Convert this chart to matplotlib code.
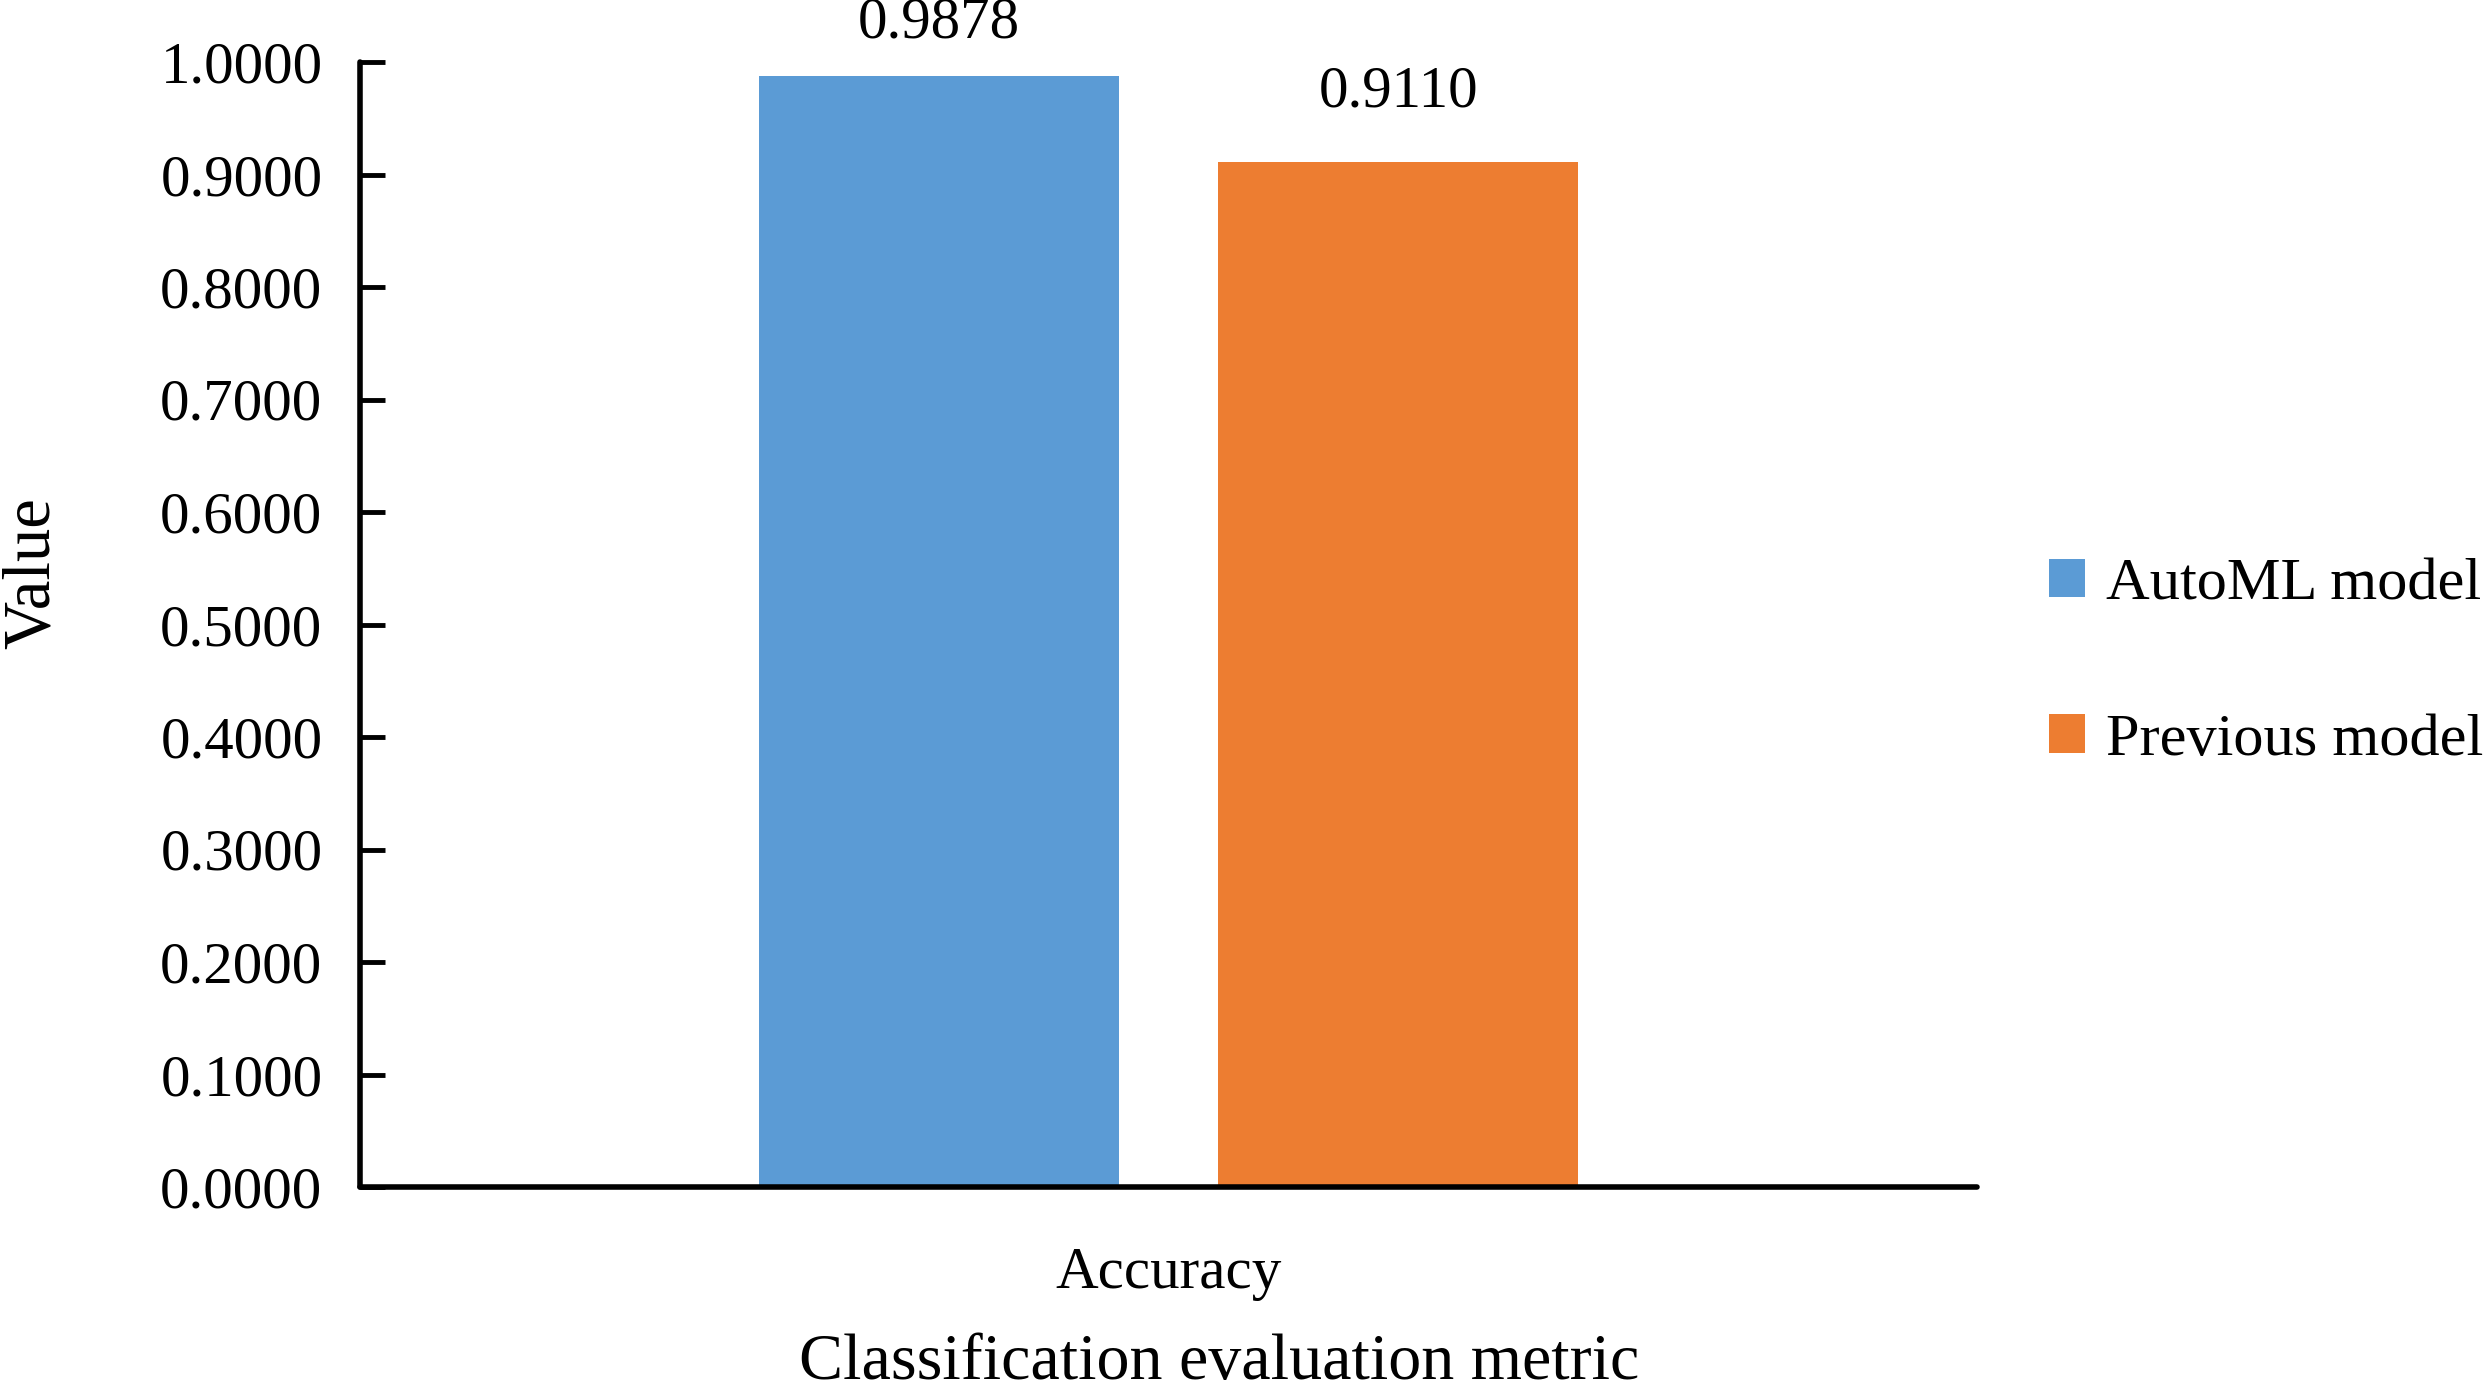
import matplotlib
matplotlib.use('Agg')
import matplotlib.pyplot as plt

# --- data ---
categories = ['Accuracy']
series_names = ['AutoML model', 'Previous model']
series_values = [[0.9878], [0.9110]]
series_colors = ['#5B9BD5', '#ED7D31']
y_ticks = [0.0, 0.1, 0.2, 0.3, 0.4, 0.5, 0.6, 0.7, 0.8, 0.9, 1.0]

plt.rcParams['font.family'] = ['Liberation Serif', 'DejaVu Serif']

W, H, DPI = 2488, 1382, 100
fig = plt.figure(figsize=(W / DPI, H / DPI), dpi=DPI)

# axes box in pixels: left 360, right 1977, y=0 at 1187, y=1 at 62
left, right, top, bottom = 360, 1977, 62, 1187
ax = fig.add_axes([left / W, 1 - bottom / H, (right - left) / W, (bottom - top) / H])

bar_w = 0.223
gap = 0.061
offsets = [-(bar_w + gap) / 2, (bar_w + gap) / 2]
pads = [18, 31]
for name, vals, color, off, pad in zip(series_names, series_values, series_colors, offsets, pads):
    xs = [i + 0.5 + off for i in range(len(categories))]
    bars = ax.bar(xs, vals, width=bar_w, color=color, label=name, zorder=2)
    ax.bar_label(bars, labels=[f'{v:.4f}' for v in vals], padding=pad, fontsize=42.5)

ax.set_xlim(0, len(categories))
ax.set_ylim(0, 1.0)
ax.set_yticks(y_ticks)
ax.set_yticklabels([f'{t:.4f}' for t in y_ticks])
ax.set_xticks([i + 0.5 for i in range(len(categories))])
ax.set_xticklabels(categories)

for s in ['top', 'right']:
    ax.spines[s].set_visible(False)
for s in ['left', 'bottom']:
    ax.spines[s].set_linewidth(4.0)
    ax.spines[s].set_zorder(3)
    ax.spines[s].set_capstyle('round')

ax.tick_params(axis='y', direction='in', length=18, width=3.5, pad=27, labelsize=42.5)
ax.tick_params(axis='x', length=0, pad=43, labelsize=42.5)

ax.set_ylabel('Value', fontsize=48)
ax.yaxis.set_label_coords(-0.184, 0.546)
ax.set_xlabel('Classification evaluation metric', fontsize=47.5, va='top')
ax.xaxis.set_label_coords(0.531, -0.130)

ax.legend(loc='center left', bbox_to_anchor=(2049 / W, 1 - 663 / H),
          bbox_transform=fig.transFigure, frameon=False, fontsize=43.5,
          handlelength=0.6, handleheight=0.6, handletextpad=0.34,
          labelspacing=1.68, borderpad=0, borderaxespad=0)

fig.savefig('out.png', dpi=DPI)
